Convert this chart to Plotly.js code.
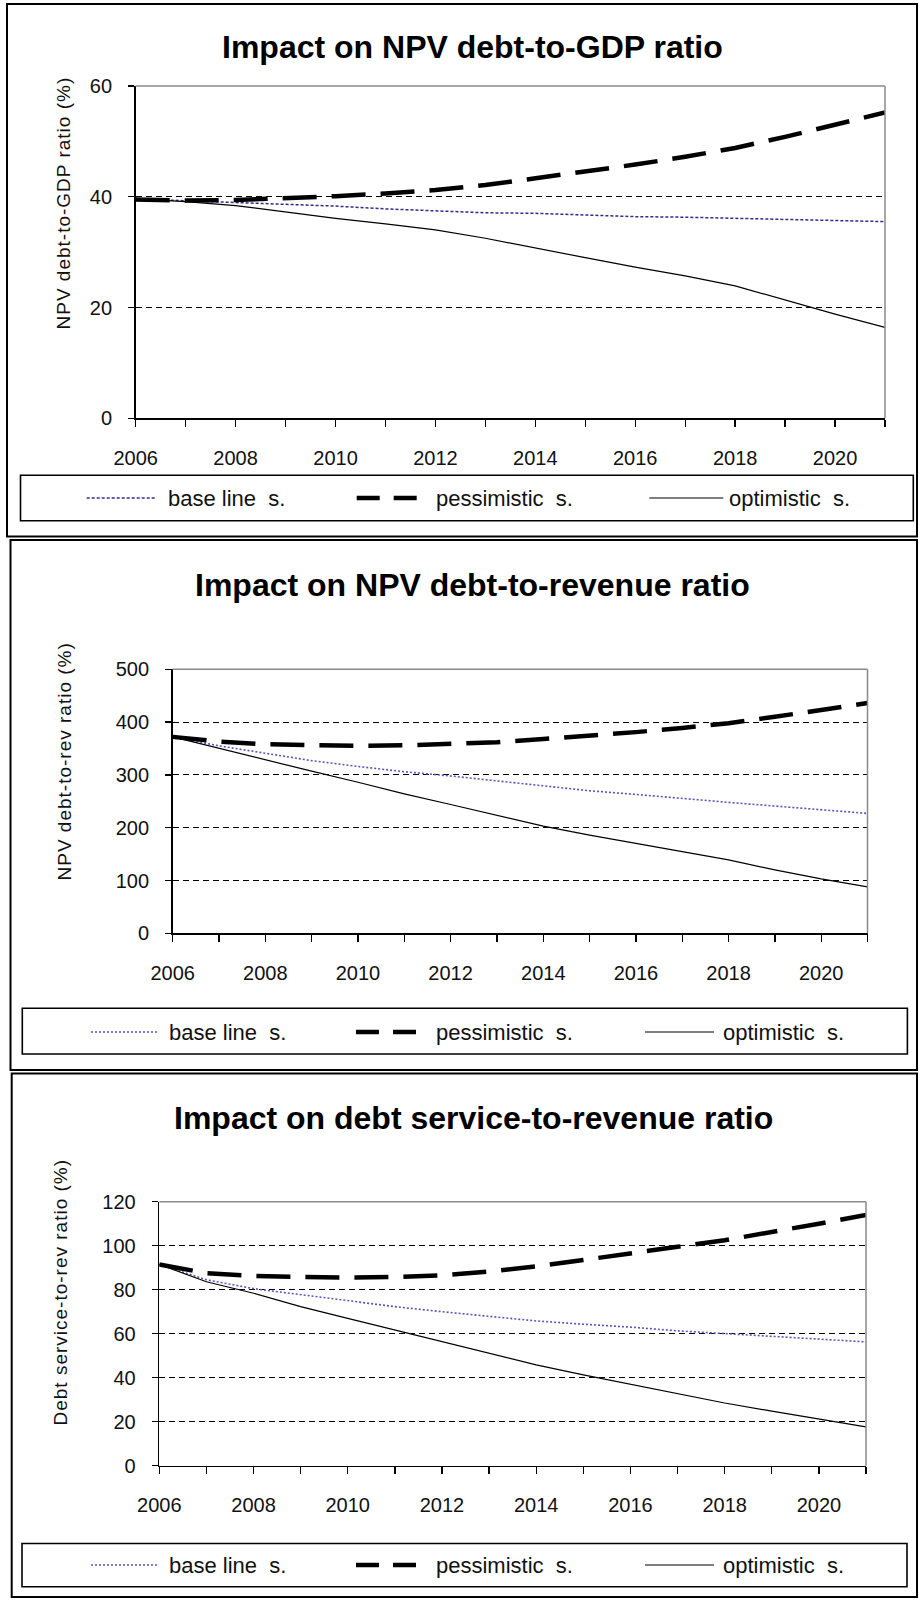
<!DOCTYPE html>
<html>
<head>
<meta charset="utf-8">
<script src="https://cdn.plot.ly/plotly-3.0.1.min.js"></script>
<style>
  html, body { margin: 0; padding: 0; background: #fff; }
  #chart { width: 919px; height: 1600px; }
</style>
</head>
<body>
<div id="chart"></div>
<script>
// ---------------- data ----------------
const years = [2006, 2007, 2008, 2009, 2010, 2011, 2012, 2013, 2014, 2015, 2016, 2017, 2018, 2019, 2020, 2021];

const seriesNames = ['base line\u00a0 s.', 'pessimistic\u00a0 s.', 'optimistic\u00a0 s.'];

const chartTitles = [
  'Impact on NPV debt-to-GDP ratio',
  'Impact on NPV debt-to-revenue ratio',
  'Impact on debt service-to-revenue ratio'
];
const yTitles = [
  'NPV debt-to-GDP ratio (%)',
  'NPV debt-to-rev ratio (%)',
  'Debt service-to-rev ratio (%)'
];

// Chart 1: NPV debt-to-GDP ratio (%)
const gdpBase = [39.6, 39.3, 39.0, 38.7, 38.3, 37.8, 37.4, 37.1, 37.0, 36.7, 36.4, 36.3, 36.1, 35.8, 35.6, 35.5];
const gdpPess = [39.5, 39.3, 39.4, 39.7, 40.1, 40.6, 41.2, 42.1, 43.3, 44.5, 45.8, 47.2, 48.8, 50.8, 52.9, 55.2];
const gdpOpt  = [39.6, 39.1, 38.4, 37.2, 36.1, 35.1, 34.0, 32.5, 30.7, 29.0, 27.3, 25.7, 23.9, 21.3, 18.8, 16.4];

// Chart 2: NPV debt-to-revenue ratio (%)
const revBase = [372, 355, 341, 327, 316, 306, 298, 289, 279, 270, 263, 255, 248, 241, 234, 227];
const revPess = [372, 363, 358, 356, 355, 356, 358, 362, 368, 374, 381, 389, 398, 410, 423, 436];
const revOpt  = [372, 350, 328, 307, 286, 264, 244, 223, 203, 186, 170, 154, 139, 120, 103, 88];

// Chart 3: Debt service-to-revenue ratio (%)
const dsBase = [91.5, 84.5, 80.5, 77.7, 75.2, 72.3, 70.0, 67.8, 65.8, 64.3, 63.0, 61.3, 60.0, 58.8, 57.5, 56.3];
const dsPess = [91.5, 87.5, 86.2, 85.6, 85.5, 85.8, 86.5, 88.3, 90.6, 93.5, 96.7, 99.5, 102.5, 106.0, 110.0, 114.0];
const dsOpt  = [91.5, 83.6, 78.4, 72.3, 67.0, 61.7, 56.4, 51.1, 45.8, 41.3, 37.0, 32.5, 28.5, 24.8, 21.3, 17.6];

const yRanges = [[0, 60], [0, 500], [0, 120]];
const yDticks = [20, 100, 20];

// ---------------- layout helpers ----------------
const W = 919, H = 1600;
const px = x => x / W;
const py = y => 1 - y / H;
const FONT = 'Liberation Sans, Arial, Helvetica, sans-serif';

const styles = [
  [{ color: '#2c2c8c', width: 1.5, dash: '3px,2px' }, { color: '#000', width: 4.5, dash: '34px,15px' }, { color: '#000', width: 1.2, dash: 'solid' }],
  [{ color: '#5656c0', width: 1.6, dash: '2px,2px' }, { color: '#000', width: 4.5, dash: '34px,15px' }, { color: '#000', width: 1.2, dash: 'solid' }],
  [{ color: '#5656c0', width: 1.6, dash: '2px,2px' }, { color: '#000', width: 4.5, dash: '34px,15px' }, { color: '#000', width: 1.2, dash: 'solid' }]
];

const panels = [
  { data: [gdpBase, gdpPess, gdpOpt], xd: [135.7, 885], yd: [85.9, 418.3],
    box: [7, 4, 917, 536.5], title: [472, 47], ytitle: [64, 203],
    leg: [20.5, 475.3, 913.3, 520.7], legY: 498,
    legX: [[86.7, 156.7, 166], [356.7, 418.3, 434], [649.3, 723.3, 727]] },
  { data: [revBase, revPess, revOpt], xd: [172.7, 867.5], yd: [669.3, 933.3],
    box: [10.5, 540, 917, 1070], title: [472, 585], ytitle: [64.5, 761.5],
    leg: [22.3, 1008.3, 907.4, 1054], legY: 1032,
    legX: [[91, 157, 167], [356, 417, 434], [645, 714, 721]] },
  { data: [dsBase, dsPess, dsOpt], xd: [159.3, 866], yd: [1201.7, 1465.7],
    box: [11.7, 1073.6, 917, 1597], title: [474, 1118], ytitle: [60, 1292],
    leg: [22, 1543.5, 907, 1586.8], legY: 1565,
    legX: [[91, 157, 167], [356, 417, 434], [645, 714, 721]] }
];

const traces = [];
const shapes = [];
const annotations = [];
const layout = {
  width: W, height: H, autosize: false,
  margin: { l: 0, r: 0, t: 0, b: 0, pad: 0 },
  paper_bgcolor: '#fff', plot_bgcolor: '#fff',
  showlegend: false,
  font: { family: FONT, color: '#111' }
};

panels.forEach((p, i) => {
  const n = i === 0 ? '' : String(i + 1);
  const xa = 'x' + n, ya = 'y' + n;
  layout['xaxis' + n] = {
    domain: [px(p.xd[0]), px(p.xd[1])], anchor: ya,
    range: [years[0], years[years.length - 1]],
    tick0: years[0], dtick: 2,
    ticks: 'outside', ticklen: 7, tickwidth: 1.3, tickcolor: '#000',
    minor: { dtick: 1, tick0: years[0], ticks: 'outside', ticklen: 7, tickwidth: 1.3, tickcolor: '#000', showgrid: false },
    showline: true, linecolor: '#000', linewidth: 1.6,
    showgrid: false, zeroline: false,
    tickfont: { family: FONT, size: 20, color: '#111' },
    ticklabelstandoff: 14, fixedrange: true
  };
  layout['yaxis' + n] = {
    domain: [py(p.yd[1]), py(p.yd[0])], anchor: xa,
    range: yRanges[i], dtick: yDticks[i], tick0: 0,
    ticks: 'outside', ticklen: 6, tickwidth: 1.3, tickcolor: '#000',
    showline: true, linecolor: '#000', linewidth: 1.6,
    showgrid: true, gridcolor: '#000', gridwidth: 1, griddash: '6px,4px',
    zeroline: false,
    tickfont: { family: FONT, size: 20, color: '#111' },
    ticklabelstandoff: 12, fixedrange: true
  };

  p.data.forEach((vals, k) => {
    traces.push({
      type: 'scatter', mode: 'lines', x: years, y: vals,
      xaxis: xa, yaxis: ya, name: seriesNames[k],
      line: styles[i][k], hoverinfo: 'x+y'
    });
  });

  // plot-area border (top and right, grey)
  shapes.push({ type: 'line', xref: xa + ' domain', yref: ya + ' domain', x0: 0, x1: 1, y0: 1, y1: 1, line: { color: '#8a8a8a', width: 1.5 }, layer: 'above' });
  shapes.push({ type: 'line', xref: xa + ' domain', yref: ya + ' domain', x0: 1, x1: 1, y0: 0, y1: 1, line: { color: '#8a8a8a', width: 1.5 }, layer: 'above' });

  // outer chart box
  shapes.push({ type: 'rect', xref: 'paper', yref: 'paper',
    x0: px(p.box[0]), x1: px(p.box[2]), y0: py(p.box[3]), y1: py(p.box[1]),
    line: { color: '#000', width: 2 }, fillcolor: 'rgba(0,0,0,0)' });

  // legend box
  shapes.push({ type: 'rect', xref: 'paper', yref: 'paper',
    x0: px(p.leg[0]), x1: px(p.leg[2]), y0: py(p.leg[3]), y1: py(p.leg[1]),
    line: { color: '#000', width: 1.6 }, fillcolor: 'rgba(0,0,0,0)' });

  // legend samples + labels
  p.legX.forEach((lx, k) => {
    const st = styles[i][k];
    shapes.push({ type: 'line', xref: 'paper', yref: 'paper',
      x0: px(lx[0]), x1: px(lx[1]), y0: py(p.legY), y1: py(p.legY),
      line: { color: st.color, width: st.width, dash: k === 1 ? '23px,14px' : st.dash } });
    annotations.push({ xref: 'paper', yref: 'paper', x: px(lx[2]), y: py(p.legY),
      xanchor: 'left', yanchor: 'middle', showarrow: false,
      text: seriesNames[k], font: { family: FONT, size: 22, color: '#111' } });
  });

  // chart title
  annotations.push({ xref: 'paper', yref: 'paper', x: px(p.title[0]), y: py(p.title[1]),
    xanchor: 'center', yanchor: 'middle', showarrow: false,
    text: '<b>' + chartTitles[i] + '</b>', font: { family: FONT, size: 32, color: '#000' } });

  // y axis title
  annotations.push({ xref: 'paper', yref: 'paper', x: px(p.ytitle[0]), y: py(p.ytitle[1]),
    xanchor: 'center', yanchor: 'middle', showarrow: false, textangle: -90,
    text: yTitles[i], font: { family: FONT, size: 19, color: '#111' } });
});

layout.shapes = shapes;
layout.annotations = annotations;

Plotly.newPlot('chart', traces, layout, { displayModeBar: false, staticPlot: true }).then(gd => {
  gd.querySelectorAll('.annotation-text').forEach(t => {
    if (yTitles.indexOf(t.textContent) >= 0) t.style.letterSpacing = '1px';
  });
});
</script>
</body>
</html>
